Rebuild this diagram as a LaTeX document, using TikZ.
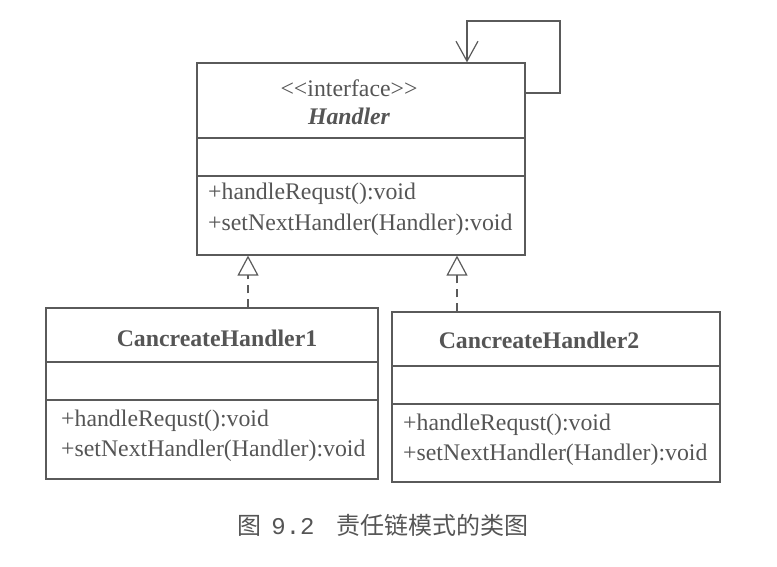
\documentclass[tikz,border=0pt]{standalone}
\usepackage{fontspec}
\setmainfont{Liberation Serif}
\newfontfamily\cjk{Noto Sans CJK SC}
\newfontfamily\capnum{Liberation Mono}
\usetikzlibrary{
	arrows.meta,
	calc}
\definecolor{linegray}{HTML}{5A5A5A}
\definecolor{textgray}{HTML}{555555}
\tikzset{
	classbox/.style={draw=linegray, line width=1.2pt, inner sep=0pt},
	member/.style={anchor=mid west, inner sep=0pt, text=textgray,
		font=\fontsize{23.8}{28}\selectfont},
	title/.style={inner sep=0pt, text=textgray,
		font=\fontsize{23.8}{28}\selectfont},
	realize/.style={draw=linegray, line width=1.2pt, dash pattern=on 8pt off 6pt,
		-{Triangle[open,length=20pt,width=21pt,line width=1.2pt]}},
	assoc/.style={draw=linegray, line width=1.2pt,
		-{Straight Barb[length=20pt,width=22pt,line width=1.2pt]}}}

\begin{document}
\begin{tikzpicture}[x=1pt,y=-1pt]
      \useasboundingbox (0,0) rectangle (777,567);

      % the interface
      \node[classbox, minimum width=328pt, minimum height=192pt] (H) at (361,159) {};
      \node[title] (Hst) at (349,88) {{<}{<}interface{>}{>}};
      \node[title, font=\fontsize{23.8}{28}\selectfont\bfseries\itshape] (Hn) at (349,116) {Handler};
      \draw[linegray, line width=1.2pt] (H.west |- 0,138) -- (H.east |- 0,138);
      \draw[linegray, line width=1.2pt] (H.west |- 0,176) -- (H.east |- 0,176);
      \node[member] (Hm1) at (208,197) {+handleRequst():void};
      \node[member] (Hm2) at (208,228) {+setNextHandler(Handler):void};

      % the two handlers
      \node[classbox, minimum width=332pt, minimum height=171pt] (C1) at (212,393.5) {};
      \node[title, font=\fontsize{23.8}{28}\selectfont\bfseries] (C1n) at (217,338) {CancreateHandler1};
      \draw[linegray, line width=1.2pt] (C1.west |- 0,362) -- (C1.east |- 0,362);
      \draw[linegray, line width=1.2pt] (C1.west |- 0,400) -- (C1.east |- 0,400);
      \node[member] (C1m1) at (61,424) {+handleRequst():void};
      \node[member] (C1m2) at (61,454) {+setNextHandler(Handler):void};

      \node[classbox, minimum width=328pt, minimum height=170pt] (C2) at (556,397) {};
      \node[title, font=\fontsize{23.8}{28}\selectfont\bfseries] (C2n) at (539,340) {CancreateHandler2};
      \draw[linegray, line width=1.2pt] (C2.west |- 0,366) -- (C2.east |- 0,366);
      \draw[linegray, line width=1.2pt] (C2.west |- 0,404) -- (C2.east |- 0,404);
      \node[member] (C2m1) at (403,428) {+handleRequst():void};
      \node[member] (C2m2) at (403,458) {+setNextHandler(Handler):void};

      \node[inner sep=0pt, text=textgray, font=\cjk\fontsize{24}{28}\selectfont] (cap) at (383,525)
        {图\hspace{10pt}{\capnum 9.2}\hspace{22pt}责任链模式的类图};

      \draw[realize] (C1.north -| 248,0) to (H.south -| 248,0);
      \draw[realize] (C2.north -| 457,0) to (H.south -| 457,0);
      \draw[assoc]   (H.east |- 0,93) -| (560,21) -| (H.north -| 467,0);
  \end{tikzpicture}
\end{document}
